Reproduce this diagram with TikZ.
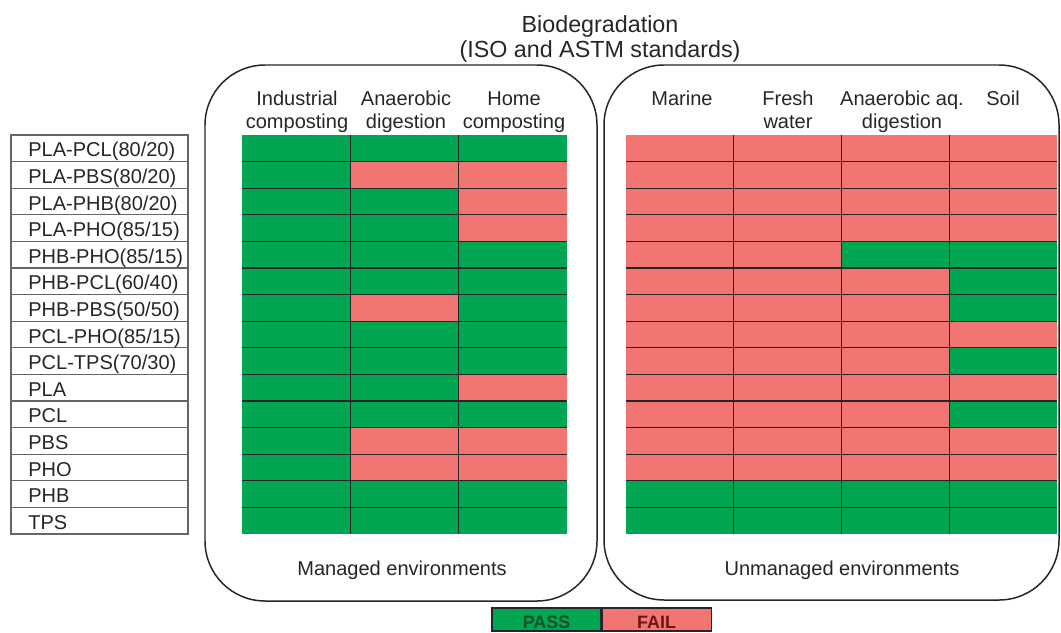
\documentclass[tikz,border=0pt]{standalone}
\usepackage{fontspec}
\setmainfont{Liberation Sans}
\usetikzlibrary{positioning}

\definecolor{passgreen}{RGB}{0,166,81}
\definecolor{failred}{RGB}{241,117,113}
\definecolor{passtext}{RGB}{24,80,40}
\definecolor{failtext}{RGB}{105,22,22}

\begin{document}
\begin{tikzpicture}[x=0.02cm, y=-0.02cm,
    txt/.style={font=\fontsize{11.4}{13.1}\selectfont, text=black!85, inner sep=0pt},
    hdr/.style={txt, align=center, anchor=north},
    lbl/.style={txt, anchor=base west},
    envbox/.style={draw=black!85, line width=0.85pt, rounded corners=1.2cm},
    tableline/.style={draw=black!60, line width=0.7pt},
    cellline/.style={draw=black!85, line width=0.65pt},
    pass/.style={fill=passgreen},
    fail/.style={fill=failred},
    legend/.style={draw=black!85, line width=0.6pt, minimum width=2.18cm, minimum height=0.46cm,
        inner sep=0pt, text height=0.36cm, text depth=0pt, font=\fontsize{10.2}{12}\selectfont\bfseries}]
    \useasboundingbox (0,0) rectangle (1061,632);

    % Title
    \node[hdr, font=\fontsize{13.26}{14.23}\selectfont] (title) at (600,15) {Biodegradation\\(ISO and ASTM standards)};

    % Environment boxes
    \draw[envbox] (205,65) rectangle (597,601);
    \draw[envbox] (604,65) rectangle (1059,600);

    % Column headers
    \node[hdr] (indcomp) at (297,91)  {Industrial\\composting};
    \node[hdr] (anaedig) at (406,91)  {Anaerobic\\digestion};
    \node[hdr] (homecomp) at (514,91) {Home\\composting};
    \node[hdr] (marine) at (682,91)   {Marine};
    \node[hdr] (fresh) at (788,91)    {Fresh\\water};
    \node[hdr] (anaeaq) at (902,91)   {Anaerobic aq.\\digestion};
    \node[hdr] (soil) at (1003,91)    {Soil};

    % Material table
    \draw[tableline] (11,135) rectangle (188,534);
    \foreach \k in {1,...,14}
        \draw[tableline] (11,{135+26.6*\k}) -- (188,{135+26.6*\k});

    \node[lbl] (plapcl) at (28,156.8) {PLA-PCL(80/20)};
    \node[lbl] (plapbs) at (28,183.4) {PLA-PBS(80/20)};
    \node[lbl] (plaphb) at (28,210.0) {PLA-PHB(80/20)};
    \node[lbl] (plapho) at (28,236.6) {PLA-PHO(85/15)};
    \node[lbl] (phbpho) at (28,263.2) {PHB-PHO(85/15)};
    \node[lbl] (phbpcl) at (28,289.8) {PHB-PCL(60/40)};
    \node[lbl] (phbpbs) at (28,316.4) {PHB-PBS(50/50)};
    \node[lbl] (pclpho) at (28,343.0) {PCL-PHO(85/15)};
    \node[lbl] (pcltps) at (28,369.6) {PCL-TPS(70/30)};
    \node[lbl] (pla) at (28,396.2)    {PLA};
    \node[lbl] (pcl) at (28,422.8)    {PCL};
    \node[lbl] (pbs) at (28,449.4)    {PBS};
    \node[lbl] (pho) at (28,476.0)    {PHO};
    \node[lbl] (phb) at (28,502.6)    {PHB};
    \node[lbl] (tps) at (28,529.2)    {TPS};

    % Managed cells
    \begin{scope}[shift={(242,135)}, x=2.1667cm, y=-0.532cm]
        \fill[pass] (0,0) rectangle (3,15);
        \fill[fail] (1,1) rectangle (3,2);
        \fill[fail] (2,2) rectangle (3,4);
        \fill[fail] (1,6) rectangle (2,7);
        \fill[fail] (2,9) rectangle (3,10);
        \fill[fail] (1,11) rectangle (3,13);
        \foreach \k in {1,...,14}
            \draw[cellline] (0,\k) -- (3,\k);
        \foreach \k in {1,2}
            \draw[cellline] (\k,0) -- (\k,15);
    \end{scope}

    % Unmanaged cells
    \begin{scope}[shift={(626,135)}, x=2.155cm, y=-0.532cm]
        \fill[fail] (0,0) rectangle (4,13);
        \fill[pass] (0,13) rectangle (4,15);
        \fill[pass] (2,4) rectangle (4,5);
        \fill[pass] (3,5) rectangle (4,7);
        \fill[pass] (3,8) rectangle (4,9);
        \fill[pass] (3,10) rectangle (4,11);
        \foreach \k in {1,...,14}
            \draw[cellline] (0,\k) -- (4,\k);
        \foreach \k in {1,2,3}
            \draw[cellline] (\k,0) -- (\k,15);
    \end{scope}

    % Box captions
    \node[txt, anchor=base] (managed) at (402,575)   {Managed environments};
    \node[txt, anchor=base] (unmanaged) at (842,575) {Unmanaged environments};

    % Legend
    \node[legend, pass, text=passtext] (passkey) at (546.5,619.5) {PASS};
    \node[legend, fail, text=failtext, right=0pt of passkey] (failkey) {FAIL};
\end{tikzpicture}
\end{document}
